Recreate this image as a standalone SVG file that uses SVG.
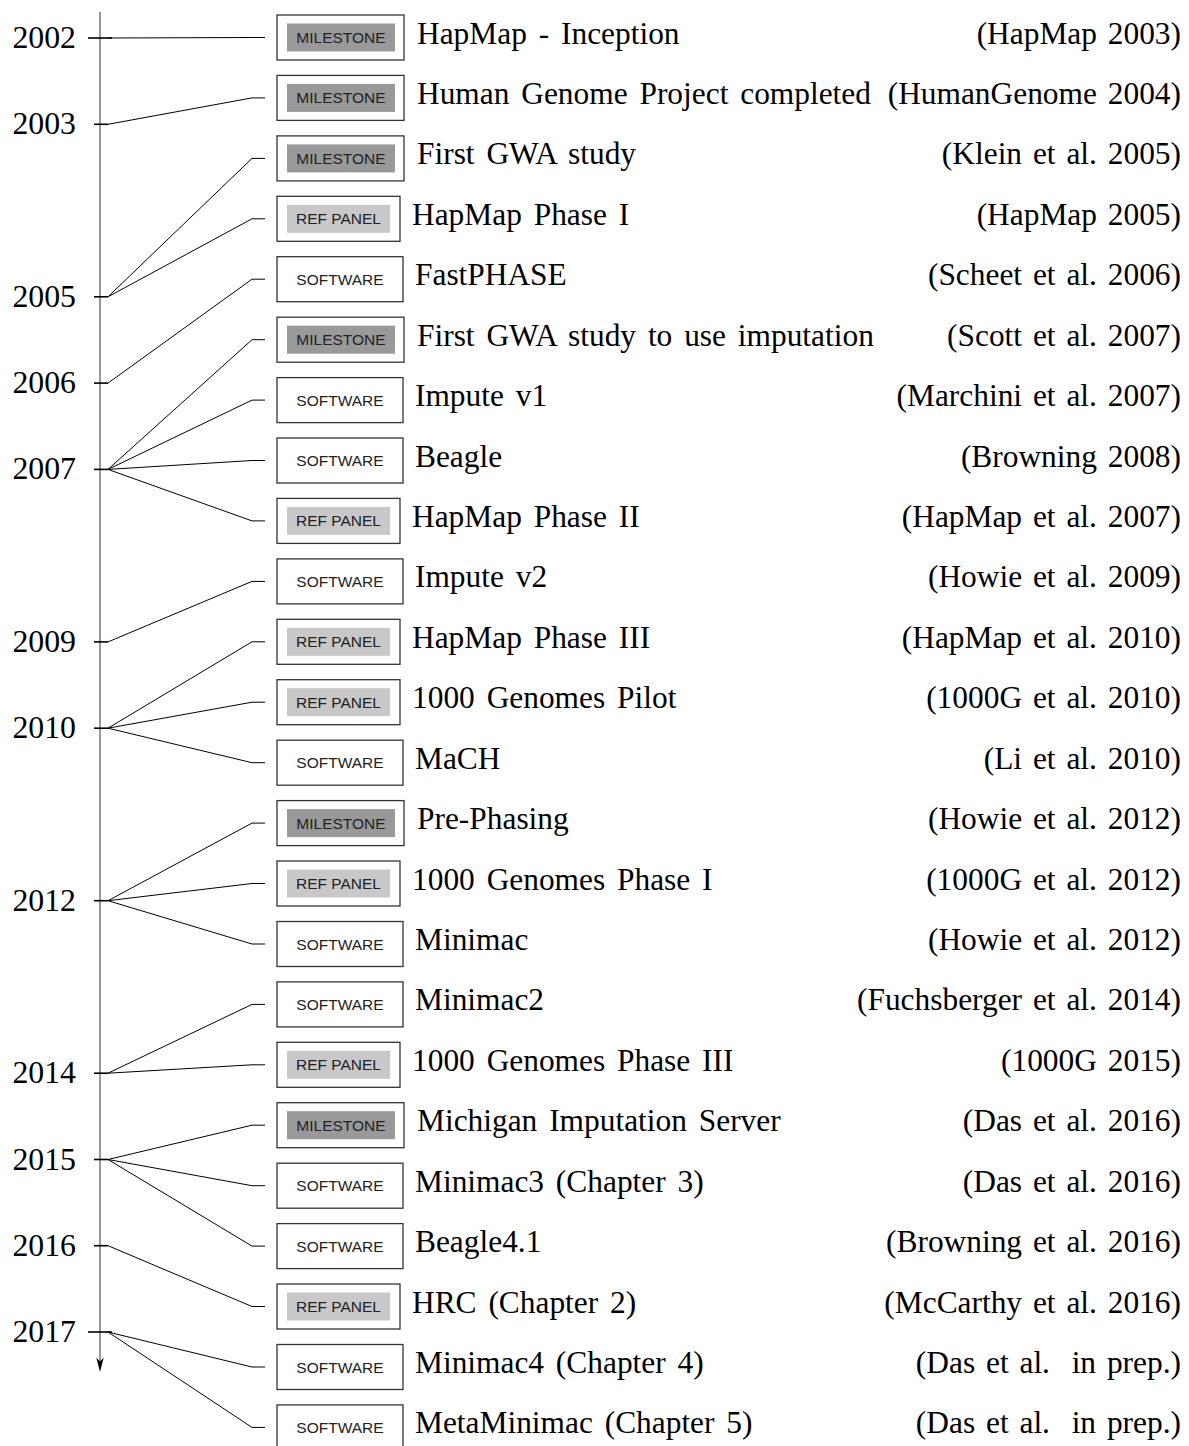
<svg xmlns="http://www.w3.org/2000/svg" width="1189" height="1446" viewBox="0 0 1189 1446">
<style>
.bg{fill:#ffffff}
.axis{stroke:#444;stroke-width:1.1;fill:none}
.tick{stroke:#000;stroke-width:1.6;fill:none}
.conn{stroke:#000;stroke-width:1;fill:none}
.year{font-family:"Liberation Serif","Times New Roman",serif;font-size:31.8px;fill:#000;text-anchor:end}
.box{fill:#fff;stroke:#333;stroke-width:1.3}
.mil{fill:#999999}
.ref{fill:#c8c8c8}
.lab{font-family:"Liberation Sans",Arial,sans-serif;font-size:15.5px;fill:#222;text-anchor:middle}
.title{font-family:"Liberation Serif","Times New Roman",serif;font-size:31.4px;word-spacing:4px;fill:#000}
.cite{font-family:"Liberation Serif","Times New Roman",serif;font-size:31.4px;word-spacing:3px;fill:#000;text-anchor:end;white-space:pre}
</style>
<defs>
<g id="milestone">
<rect class="box" x="277" y="-22.5" width="127" height="45"/>
<rect class="mil" x="287" y="-14" width="108" height="28"/>
<text class="lab" x="341" y="5.5">MILESTONE</text>
</g>
<g id="refpanel">
<rect class="box" x="277" y="-22.5" width="123" height="45"/>
<rect class="ref" x="287" y="-14" width="103" height="28"/>
<text class="lab" x="338.5" y="5.5">REF PANEL</text>
</g>
<g id="software">
<rect class="box" x="277" y="-22.5" width="126" height="45"/>
<text class="lab" x="340" y="5.5">SOFTWARE</text>
</g>
</defs>
<rect class="bg" x="0" y="0" width="1189" height="1446"/>

<g id="timeline">
<line class="axis" x1="100" y1="12" x2="100" y2="1362"/>
<polygon points="100,1372 96.3,1357.5 100,1361.5 103.7,1357.5" fill="#000"/>
<line class="tick" x1="88" y1="38" x2="112" y2="38"/>
<line class="tick" x1="94" y1="124.3" x2="108" y2="124.3"/>
<line class="tick" x1="94" y1="296.8" x2="108" y2="296.8"/>
<line class="tick" x1="94" y1="383.1" x2="108" y2="383.1"/>
<line class="tick" x1="94" y1="469.4" x2="108" y2="469.4"/>
<line class="tick" x1="94" y1="641.9" x2="108" y2="641.9"/>
<line class="tick" x1="94" y1="728.2" x2="108" y2="728.2"/>
<line class="tick" x1="94" y1="900.7" x2="108" y2="900.7"/>
<line class="tick" x1="94" y1="1073.2" x2="108" y2="1073.2"/>
<line class="tick" x1="94" y1="1159.5" x2="108" y2="1159.5"/>
<line class="tick" x1="94" y1="1245.7" x2="108" y2="1245.7"/>
<line class="tick" x1="88" y1="1332" x2="112" y2="1332"/>
<text class="year" x="76" y="48">2002</text>
<text class="year" x="76" y="134.3">2003</text>
<text class="year" x="76" y="306.8">2005</text>
<text class="year" x="76" y="393.1">2006</text>
<text class="year" x="76" y="479.4">2007</text>
<text class="year" x="76" y="651.9">2009</text>
<text class="year" x="76" y="738.2">2010</text>
<text class="year" x="76" y="910.7">2012</text>
<text class="year" x="76" y="1083.2">2014</text>
<text class="year" x="76" y="1169.5">2015</text>
<text class="year" x="76" y="1255.7">2016</text>
<text class="year" x="76" y="1342">2017</text>
</g>

<g id="connectors">
<path class="conn" d="M108,38 L252,37.5 L265,37.5"/>
<path class="conn" d="M108,124.3 L252,97.9 L265,97.9"/>
<path class="conn" d="M108,296.8 L252,158.4 L265,158.4"/>
<path class="conn" d="M108,296.8 L252,218.8 L265,218.8"/>
<path class="conn" d="M108,383.1 L252,279.2 L265,279.2"/>
<path class="conn" d="M108,469.4 L252,339.7 L265,339.7"/>
<path class="conn" d="M108,469.4 L252,400.1 L265,400.1"/>
<path class="conn" d="M108,469.4 L252,460.5 L265,460.5"/>
<path class="conn" d="M108,469.4 L252,520.9 L265,520.9"/>
<path class="conn" d="M108,641.9 L252,581.4 L265,581.4"/>
<path class="conn" d="M108,728.2 L252,641.8 L265,641.8"/>
<path class="conn" d="M108,728.2 L252,702.2 L265,702.2"/>
<path class="conn" d="M108,728.2 L252,762.7 L265,762.7"/>
<path class="conn" d="M108,900.7 L252,823.1 L265,823.1"/>
<path class="conn" d="M108,900.7 L252,883.5 L265,883.5"/>
<path class="conn" d="M108,900.7 L252,944 L265,944"/>
<path class="conn" d="M108,1073.2 L252,1004.4 L265,1004.4"/>
<path class="conn" d="M108,1073.2 L252,1064.8 L265,1064.8"/>
<path class="conn" d="M108,1159.5 L252,1125.2 L265,1125.2"/>
<path class="conn" d="M108,1159.5 L252,1185.7 L265,1185.7"/>
<path class="conn" d="M108,1159.5 L252,1246.1 L265,1246.1"/>
<path class="conn" d="M108,1245.7 L252,1306.5 L265,1306.5"/>
<path class="conn" d="M108,1332 L252,1367 L265,1367"/>
<path class="conn" d="M108,1332 L252,1427.4 L265,1427.4"/>
</g>

<g id="n0" transform="translate(0,37.5)"><use href="#milestone"/><text class="title" x="417" y="6">HapMap - Inception</text><text class="cite" x="1181" y="6">(HapMap 2003)</text></g>
<g id="n1" transform="translate(0,97.9)"><use href="#milestone"/><text class="title" x="417" y="6">Human Genome Project completed</text><text class="cite" x="1181" y="6">(HumanGenome 2004)</text></g>
<g id="n2" transform="translate(0,158.4)"><use href="#milestone"/><text class="title" x="417" y="6">First GWA study</text><text class="cite" x="1181" y="6">(Klein et al. 2005)</text></g>
<g id="n3" transform="translate(0,218.8)"><use href="#refpanel"/><text class="title" x="412" y="6">HapMap Phase I</text><text class="cite" x="1181" y="6">(HapMap 2005)</text></g>
<g id="n4" transform="translate(0,279.2)"><use href="#software"/><text class="title" x="415" y="6">FastPHASE</text><text class="cite" x="1181" y="6">(Scheet et al. 2006)</text></g>
<g id="n5" transform="translate(0,339.7)"><use href="#milestone"/><text class="title" x="417" y="6">First GWA study to use imputation</text><text class="cite" x="1181" y="6">(Scott et al. 2007)</text></g>
<g id="n6" transform="translate(0,400.1)"><use href="#software"/><text class="title" x="415" y="6">Impute v1</text><text class="cite" x="1181" y="6">(Marchini et al. 2007)</text></g>
<g id="n7" transform="translate(0,460.5)"><use href="#software"/><text class="title" x="415" y="6">Beagle</text><text class="cite" x="1181" y="6">(Browning 2008)</text></g>
<g id="n8" transform="translate(0,520.9)"><use href="#refpanel"/><text class="title" x="412" y="6">HapMap Phase II</text><text class="cite" x="1181" y="6">(HapMap et al. 2007)</text></g>
<g id="n9" transform="translate(0,581.4)"><use href="#software"/><text class="title" x="415" y="6">Impute v2</text><text class="cite" x="1181" y="6">(Howie et al. 2009)</text></g>
<g id="n10" transform="translate(0,641.8)"><use href="#refpanel"/><text class="title" x="412" y="6">HapMap Phase III</text><text class="cite" x="1181" y="6">(HapMap et al. 2010)</text></g>
<g id="n11" transform="translate(0,702.2)"><use href="#refpanel"/><text class="title" x="412" y="6">1000 Genomes Pilot</text><text class="cite" x="1181" y="6">(1000G et al. 2010)</text></g>
<g id="n12" transform="translate(0,762.7)"><use href="#software"/><text class="title" x="415" y="6">MaCH</text><text class="cite" x="1181" y="6">(Li et al. 2010)</text></g>
<g id="n13" transform="translate(0,823.1)"><use href="#milestone"/><text class="title" x="417" y="6">Pre-Phasing</text><text class="cite" x="1181" y="6">(Howie et al. 2012)</text></g>
<g id="n14" transform="translate(0,883.5)"><use href="#refpanel"/><text class="title" x="412" y="6">1000 Genomes Phase I</text><text class="cite" x="1181" y="6">(1000G et al. 2012)</text></g>
<g id="n15" transform="translate(0,944)"><use href="#software"/><text class="title" x="415" y="6">Minimac</text><text class="cite" x="1181" y="6">(Howie et al. 2012)</text></g>
<g id="n16" transform="translate(0,1004.4)"><use href="#software"/><text class="title" x="415" y="6">Minimac2</text><text class="cite" x="1181" y="6">(Fuchsberger et al. 2014)</text></g>
<g id="n17" transform="translate(0,1064.8)"><use href="#refpanel"/><text class="title" x="412" y="6">1000 Genomes Phase III</text><text class="cite" x="1181" y="6">(1000G 2015)</text></g>
<g id="n18" transform="translate(0,1125.2)"><use href="#milestone"/><text class="title" x="417" y="6">Michigan Imputation Server</text><text class="cite" x="1181" y="6">(Das et al. 2016)</text></g>
<g id="n19" transform="translate(0,1185.7)"><use href="#software"/><text class="title" x="415" y="6">Minimac3 (Chapter 3)</text><text class="cite" x="1181" y="6">(Das et al. 2016)</text></g>
<g id="n20" transform="translate(0,1246.1)"><use href="#software"/><text class="title" x="415" y="6">Beagle4.1</text><text class="cite" x="1181" y="6">(Browning et al. 2016)</text></g>
<g id="n21" transform="translate(0,1306.5)"><use href="#refpanel"/><text class="title" x="412" y="6">HRC (Chapter 2)</text><text class="cite" x="1181" y="6">(McCarthy et al. 2016)</text></g>
<g id="n22" transform="translate(0,1367)"><use href="#software"/><text class="title" x="415" y="6">Minimac4 (Chapter 4)</text><text class="cite" x="1181" y="6">(Das et al.  in prep.)</text></g>
<g id="n23" transform="translate(0,1427.4)"><use href="#software"/><text class="title" x="415" y="6">MetaMinimac (Chapter 5)</text><text class="cite" x="1181" y="6">(Das et al.  in prep.)</text></g>
</svg>
